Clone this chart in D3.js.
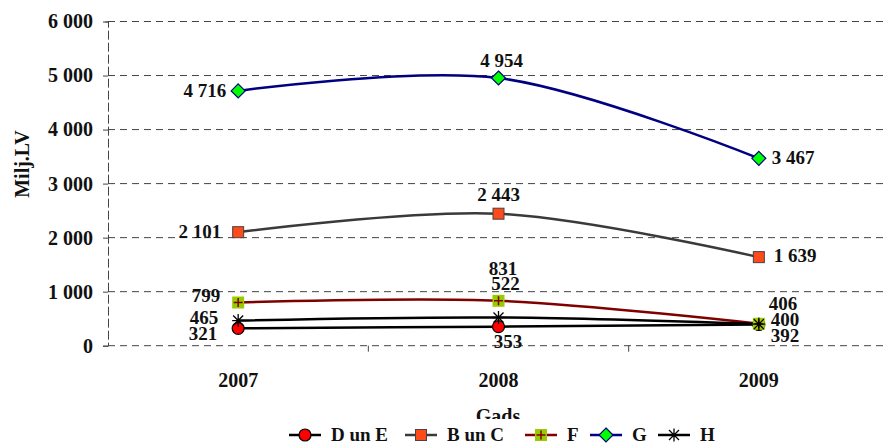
<!DOCTYPE html>
<html><head><meta charset="utf-8">
<script src="https://cdn.jsdelivr.net/npm/d3@7"></script>
<style>body{margin:0;background:#fff}svg{display:block}</style>
</head><body><svg id="c" width="885" height="443"></svg>
<script>
const categories = ["2007","2008","2009"];
const seriesNames = ["D un E","B un C","F","G","H"];
const valuesDE = [321, 353, 392];
const valuesBC = [2101, 2443, 1639];
const valuesF = [799, 831, 406];
const valuesG = [4716, 4954, 3467];
const valuesH = [465, 522, 400];
const yTicks = [0,1000,2000,3000,4000,5000,6000];
const yTickLabels = ["0","1 000","2 000","3 000","4 000","5 000","6 000"];
const yTitle = "Milj.LV";
const xTitle = "Gads";

const FONT = "'Liberation Serif', 'Times New Roman', serif";
const fmt = v => { const s = String(v); return s.length > 3 ? s.slice(0, s.length-3) + " " + s.slice(-3) : s; };

const series = [
  {name: seriesNames[0], values: valuesDE, line: "#000", marker: "circle", fill: "#ff0000", stroke:"#000"},
  {name: seriesNames[1], values: valuesBC, line: "#3a3a3a", marker: "square", fill: "#ff4a1a", stroke:"#444"},
  {name: seriesNames[2], values: valuesF, line: "#800000", marker: "plus", fill: "#99cc00", stroke:"#800000"},
  {name: seriesNames[3], values: valuesG, line: "#000080", marker: "diamond", fill: "#00ff00", stroke:"#000080"},
  {name: seriesNames[4], values: valuesH, line: "#000", marker: "star", fill: "none", stroke:"#000"}
];
// label placement per series per point: [anchor, dx, dy]
const labelPlace = [
  [["end",-21,12],["middle",9.5,21.5],["start",12,17.5]],
  [["end",-17,6],["middle",0,-13],["start",15,5]],
  [["end",-18,-1],["middle",4.5,-26],["start",10,-14]],
  [["end",-12,6],["middle",3,-11],["start",13,6]],
  [["end",-20,3.5],["middle",7,-27],["start",12,2]]
];

const svg = d3.select("#c");
const m = {l:108};
const W = 885;
const x = d3.scaleBand().domain(categories).range([m.l, 889]);
const y = d3.scaleLinear().domain([0,6000]).range([345.7, 21.5]);

function styleText(sel, size) {
  sel.attr("font-size", size).attr("font-family", null).attr("fill", "#111")
    .style("font-family", FONT).style("font-weight", "bold");
}

// gridlines
svg.append("g").selectAll("line").data(yTicks).join("line")
  .attr("x1", m.l).attr("x2", W).attr("y1", d=>y(d)).attr("y2", d=>y(d))
  .attr("stroke", "#444").attr("stroke-width", 1).attr("stroke-dasharray", "7,5");

// y axis
const yAxis = d3.axisLeft(y).tickValues(yTicks).tickFormat((d,i)=>yTickLabels[i]).tickSize(5).tickPadding(10);
const gy = svg.append("g").attr("transform", `translate(${m.l},0)`).call(yAxis);
gy.attr("font-family", null);
gy.select(".domain").attr("stroke","#444").attr("stroke-dasharray","9,3");
gy.selectAll(".tick line").attr("stroke","#444");
styleText(gy.selectAll("text"), 20);

// x axis
const xAxis = d3.axisBottom(x).tickSize(0).tickPadding(27);
const gx = svg.append("g").attr("transform", `translate(0,${y(0)})`).call(xAxis);
gx.attr("font-family", null);
gx.select(".domain").remove();
styleText(gx.selectAll("text"), 20);
// category boundary ticks
svg.append("g").selectAll("line").data(categories.slice(1)).join("line")
  .attr("x1", d=>x(d)).attr("x2", d=>x(d)).attr("y1", y(0)).attr("y2", y(0)+6)
  .attr("stroke","#444");

// titles
styleText(svg.append("text").attr("transform", `translate(29,164) rotate(-90)`).attr("text-anchor","middle").text(yTitle), 20);
styleText(svg.append("text").attr("x", 498).attr("y", 423).attr("text-anchor","middle").text(xTitle), 20);

const cx = c => x(c) + x.bandwidth()/2;
const line = d3.line().x((d,i)=>cx(categories[i])).y(d=>y(d)).curve(d3.curveCatmullRom.alpha(0.5));

function drawMarker(g, s, px, py) {
  if (s.marker === "circle") {
    g.append("circle").attr("cx",px).attr("cy",py).attr("r",6).attr("fill",s.fill).attr("stroke",s.stroke).attr("stroke-width",1.2);
  } else if (s.marker === "square") {
    g.append("rect").attr("x",px-5.5).attr("y",py-5.5).attr("width",11).attr("height",11).attr("fill",s.fill).attr("stroke",s.stroke).attr("stroke-width",1);
  } else if (s.marker === "plus") {
    g.append("rect").attr("x",px-6).attr("y",py-6).attr("width",12).attr("height",12).attr("fill",s.fill);
    g.append("path").attr("d",`M${px-4.5},${py}H${px+4.5}M${px},${py-4.5}V${py+4.5}`).attr("stroke",s.stroke).attr("stroke-width",1.5);
  } else if (s.marker === "diamond") {
    g.append("path").attr("d",`M${px},${py-7}L${px+7},${py}L${px},${py+7}L${px-7},${py}Z`).attr("fill",s.fill).attr("stroke",s.stroke).attr("stroke-width",1.2);
  } else if (s.marker === "star") {
    g.append("path").attr("d",`M${px-5},${py-5}L${px+5},${py+5}M${px-5},${py+5}L${px+5},${py-5}M${px},${py-6.5}V${py+6.5}M${px-6},${py}H${px+6}`)
      .attr("stroke",s.stroke).attr("stroke-width",1.3);
  }
}

// lines
series.forEach(s => {
  svg.append("path").datum(s.values).attr("d", line).attr("fill","none").attr("stroke", s.line).attr("stroke-width", 2.5);
});
// markers
series.forEach(s => {
  const g = svg.append("g");
  s.values.forEach((v,i) => drawMarker(g, s, cx(categories[i]), y(v)));
});
// data labels
series.forEach((s, si) => {
  s.values.forEach((v,i) => {
    const p = labelPlace[si][i];
    styleText(svg.append("text").attr("x", cx(categories[i]) + p[1]).attr("y", y(v) + p[2])
      .attr("text-anchor", p[0]).text(fmt(v)), 19);
  });
});

// legend
const lg = svg.append("g");
lg.append("rect").attr("x", 280).attr("y", 419).attr("width", 460).attr("height", 24).attr("fill","#fff");
const legX = [289, 405, 525, 590, 658];
series.forEach((s,i) => {
  const x0 = legX[i], ly = 435;
  lg.append("line").attr("x1",x0).attr("x2",x0+32).attr("y1",ly).attr("y2",ly).attr("stroke",s.line).attr("stroke-width",2.5);
  drawMarker(lg, s, x0+16, ly);
  styleText(lg.append("text").attr("x", x0+42).attr("y", ly+5.5).text(s.name), 19);
});
</script></body></html>
